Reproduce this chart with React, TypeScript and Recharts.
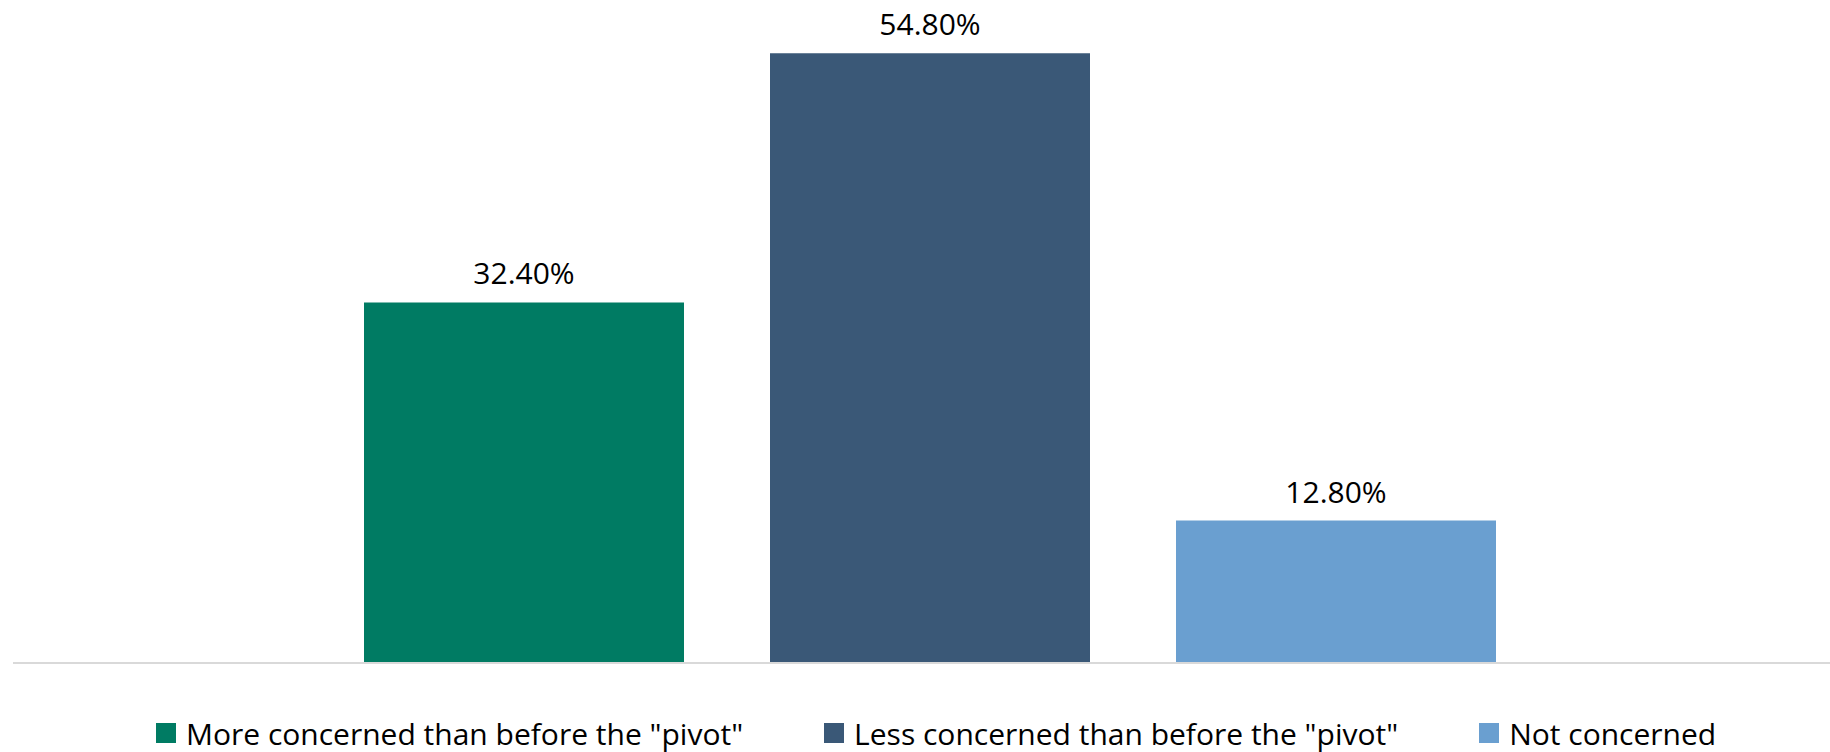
import React from 'react';
import { BarChart, Bar, XAxis, YAxis, LabelList } from 'recharts';

// survey answers, one group of three bars
const categories = ['Respondents'];
const seriesNames = [
  'More concerned than before the "pivot"',
  'Less concerned than before the "pivot"',
  'Not concerned',
];
const seriesValues = [32.4, 54.8, 12.8];
const seriesColors = ['#007B63', '#3A5877', '#6A9FD0'];

const FONT = '"Open Sans", "Noto Sans", sans-serif';

const data = categories.map((name) => {
  const row: Record<string, string | number> = { name };
  seriesNames.forEach((s, i) => {
    row[`s${i}`] = seriesValues[i];
  });
  return row;
});

// Excel-style legend row under the plot
function LegendRow(): React.ReactElement {
  return (
    <div
      style={{
        position: 'absolute',
        left: 156,
        top: 713,
        height: 40,
        display: 'flex',
        alignItems: 'center',
        gap: 81,
        fontFamily: FONT,
        fontSize: 30,
        color: '#000',
        whiteSpace: 'nowrap',
      }}
    >
      {seriesNames.map((s, i) => (
        <div key={s} style={{ display: 'flex', alignItems: 'center', gap: 10 }}>
          <span style={{ width: 20, height: 20, background: seriesColors[i], display: 'inline-block' }} />
          <span>{s}</span>
        </div>
      ))}
    </div>
  );
}

export default function App(): React.ReactElement {
  return (
    <div
      style={{
        position: 'absolute',
        left: 0,
        top: 0,
        width: 1830,
        height: 752,
        overflow: 'hidden',
        background: '#fff',
      }}
    >
      <BarChart
        width={1847}
        height={752}
        data={data}
        margin={{ top: 51, right: 0, bottom: 88, left: 13 }}
        barSize={320}
        barGap={86}
      >
        <XAxis
          dataKey="name"
          tick={false}
          tickLine={false}
          height={1}
          axisLine={{ stroke: '#D9D9D9', strokeWidth: 2 }}
        />
        <YAxis hide domain={[0, 55]} />
        {seriesNames.map((s, i) => (
          <Bar key={s} dataKey={`s${i}`} name={s} fill={seriesColors[i]} isAnimationActive={false}>
            <LabelList
              dataKey={`s${i}`}
              position="top"
              offset={18}
              fill="#000"
              fontSize={30}
              fontFamily={FONT}
              formatter={(v: number) => `${v.toFixed(2)}%`}
            />
          </Bar>
        ))}
      </BarChart>
      <LegendRow />
    </div>
  );
}
